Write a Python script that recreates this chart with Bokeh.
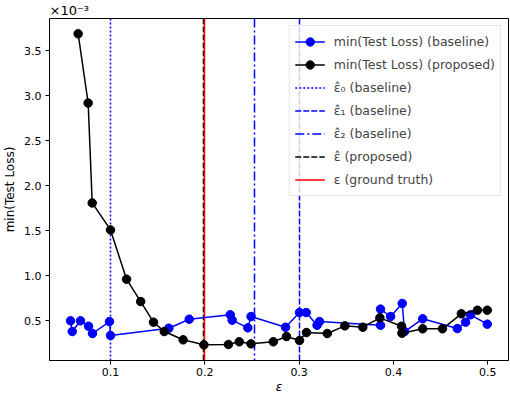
from bokeh.plotting import figure
from bokeh.models import Legend, LegendItem, FixedTicker, Range1d, PrintfTickFormatter
from bokeh.embed import file_html
from bokeh.resources import INLINE

# values in units of 1e-3
eps_base = [0.0576, 0.0594, 0.0682, 0.0767, 0.0809, 0.0989, 0.1000, 0.1618, 0.1835,
            0.2270, 0.2290, 0.2456, 0.2490, 0.2856, 0.3004, 0.3075, 0.3190, 0.3216,
            0.3863, 0.3863, 0.3970, 0.4093, 0.4118, 0.4310, 0.4677, 0.4765, 0.4818, 0.4995]
loss_base = [0.50, 0.381, 0.50, 0.44, 0.359, 0.492, 0.337, 0.418, 0.518,
             0.567, 0.507, 0.422, 0.548, 0.429, 0.592, 0.592, 0.451, 0.492,
             0.451, 0.630, 0.548, 0.693, 0.381, 0.522, 0.414, 0.485, 0.567, 0.463]

eps_prop = [0.0657, 0.0763, 0.0806, 0.1000, 0.1170, 0.1320, 0.1456, 0.1570, 0.1770,
            0.1990, 0.2250, 0.2365, 0.2490, 0.2726, 0.2866, 0.3004, 0.3078, 0.3298,
            0.3485, 0.3675, 0.3856, 0.4086, 0.4090, 0.4310, 0.4520, 0.4720, 0.4890, 0.4995]
loss_prop = [3.69, 2.92, 1.81, 1.51, 0.963, 0.714, 0.485, 0.381, 0.289,
             0.233, 0.237, 0.267, 0.244, 0.267, 0.326, 0.281, 0.370, 0.359,
             0.444, 0.429, 0.533, 0.440, 0.362, 0.411, 0.411, 0.578, 0.618, 0.618]

eps_hat0_base = 0.1
eps_hat1_base = 0.3
eps_hat2_base = 0.2525
eps_hat_prop = 0.1986
eps_true = 0.2

x_ticks = [0.1, 0.2, 0.3, 0.4, 0.5]
y_ticks = [0.5, 1.0, 1.5, 2.0, 2.5, 3.0, 3.5]

FONT = "DejaVu Sans"

p = figure(width=510, height=396, output_backend="svg", toolbar_location=None,
           x_range=Range1d(0.0353, 0.522), y_range=Range1d(0.059, 3.86),
           title="×10⁻³",
           min_border_left=41, min_border_top=17, min_border_right=2, min_border_bottom=10)
p.title.align = "left"
p.title.text_font = FONT
p.title.text_font_size = "13px"
p.title.text_font_style = "normal"
p.title.text_color = "black"
p.title.standoff = 1
p.background_fill_color = "white"
p.border_fill_color = "white"
p.xgrid.visible = False
p.ygrid.visible = False
p.outline_line_color = "black"
p.outline_line_alpha = 1.0
p.outline_line_width = 1

for ax in (p.xaxis[0], p.yaxis[0]):
    ax.major_tick_in = 0
    ax.major_tick_out = 4
    ax.minor_tick_line_color = None
    ax.axis_line_color = "black"
    ax.major_tick_line_color = "black"
    ax.major_label_text_font = FONT
    ax.major_label_text_font_size = "11px"
    ax.major_label_text_color = "black"
    ax.axis_label_text_font = FONT
    ax.axis_label_text_font_size = "12px"
    ax.axis_label_text_color = "black"
    ax.axis_label_text_font_style = "normal"

p.xaxis.ticker = FixedTicker(ticks=x_ticks)
p.yaxis.ticker = FixedTicker(ticks=y_ticks)
p.yaxis.formatter = PrintfTickFormatter(format="%.1f")
p.xaxis.axis_label = "ε"
p.xaxis.axis_label_text_font_style = "italic"
p.yaxis.axis_label = "min(Test Loss)"
p.xaxis.major_label_standoff = 3
p.xaxis.axis_label_standoff = 1
p.yaxis.major_label_standoff = 4
p.yaxis.axis_label_standoff = 4

v0 = p.vspan(x=[eps_hat0_base], line_color="#0000ff", line_width=1.5, line_dash="2 2")
v1 = p.vspan(x=[eps_hat1_base], line_color="#0000ff", line_width=1.5, line_dash="6 2")
v2 = p.vspan(x=[eps_hat2_base], line_color="#0000ff", line_width=1.5, line_dash="9 3 2 3")
vp = p.vspan(x=[eps_hat_prop], line_color="black", line_width=1.5, line_dash="6 2")
vt = p.vspan(x=[eps_true], line_color="#ff0000", line_width=1.5)

lb = p.line(eps_base, loss_base, line_color="#0000ff", line_width=1.5)
sb = p.scatter(eps_base, loss_base, size=8.5, fill_color="#0000ff", line_color="#0000ff")
lp = p.line(eps_prop, loss_prop, line_color="black", line_width=1.5)
sp = p.scatter(eps_prop, loss_prop, size=8.5, fill_color="black", line_color="black")

legend = Legend(items=[
    LegendItem(label="min(Test Loss) (baseline)", renderers=[lb, sb]),
    LegendItem(label="min(Test Loss) (proposed)", renderers=[lp, sp]),
    LegendItem(label="\u03b5\u0302\u2080 (baseline)", renderers=[v0]),
    LegendItem(label="\u03b5\u0302\u2081 (baseline)", renderers=[v1]),
    LegendItem(label="\u03b5\u0302\u2082 (baseline)", renderers=[v2]),
    LegendItem(label="\u03b5\u0302 (proposed)", renderers=[vp]),
    LegendItem(label="\u03b5 (ground truth)", renderers=[vt]),
], location="top_right")
legend.label_text_font = FONT
legend.label_text_font_size = "12.5px"
legend.glyph_width = 30
legend.glyph_height = 21
legend.label_height = 21
legend.spacing = 2
legend.padding = 5
legend.margin = 7
legend.label_standoff = 9
legend.border_line_color = "#cccccc"
legend.border_line_width = 1
legend.background_fill_alpha = 0.8
p.add_layout(legend)

open("out.html", "w").write(file_html(p, INLINE))
